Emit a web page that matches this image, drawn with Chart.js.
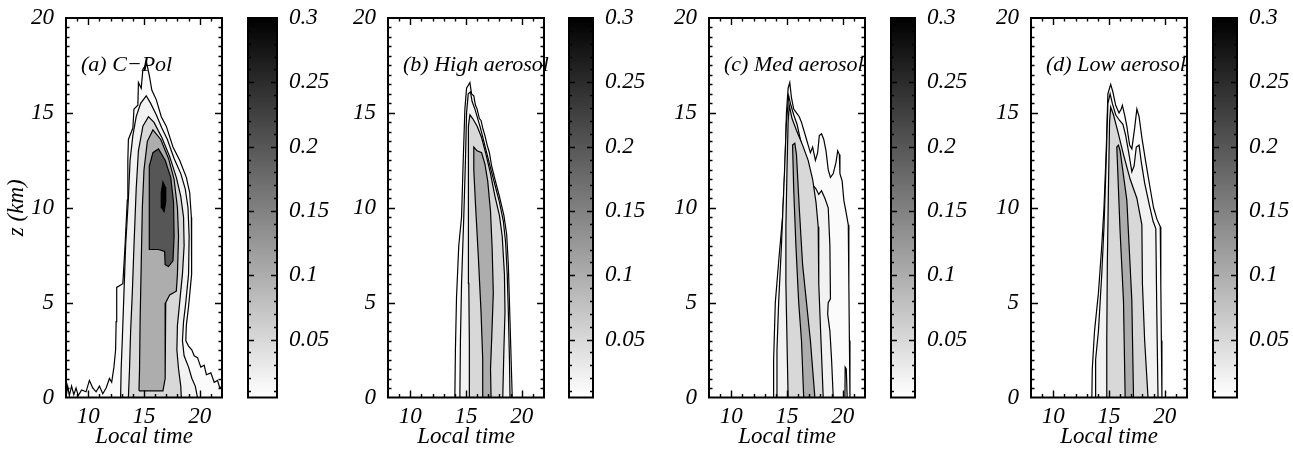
<!DOCTYPE html>
<html>
<head>
<meta charset="utf-8">
<script src="https://cdn.jsdelivr.net/npm/chart.js@4.4.1/dist/chart.umd.min.js"></script>
<style>
html, body { margin: 0; padding: 0; background: #fff; }
#wrap { position: relative; width: 1293px; height: 452px; overflow: hidden; }
canvas { position: absolute; top: 0; }
</style>
</head>
<body>
<div id="wrap"></div>
<script>
// Axes and colour bar
const xRange = [8, 22];
const zRange = [0, 20];
const xTickLabels = [10, 15, 20];
const zTickLabels = [0, 5, 10, 15, 20];
const cbRange = [0.005, 0.3];
const cbTickLabels = [0.05, 0.1, 0.15, 0.2, 0.25, 0.3];

// Contour outlines, [local time, z km], one per level
// (a) C-Pol
const a01 = [[8,0],[8.15,0.6],[8.3,0.1],[8.5,0.6],[8.7,0.15],[8.9,0.5],[9.1,0.1],[9.4,0.4],[9.8,0.3],[10.1,0.9],[10.4,0.5],[10.7,0.3],[11.0,0.6],[11.3,0.2],[11.6,0.5],[11.9,1.0],[12.1,0.8],[12.3,1.6],[12.45,2.5],[12.5,4],[12.55,5.8],[13.1,6.0],[13.3,8],[13.5,10.4],[13.55,12.5],[13.6,13.6],[14.0,14.2],[14.1,15.2],[14.45,15.4],[14.5,16.6],[14.75,16.3],[14.9,17.3],[15.25,17.6],[15.5,16.9],[15.7,16.2],[16.1,15.7],[16.55,14.8],[17.0,14.3],[17.6,13.2],[18.2,12.5],[18.8,11.6],[19.1,10.8],[19.25,9.5],[19.3,8],[19.25,6.5],[19.0,4.8],[18.8,3.8],[18.75,3.0],[19.0,2.7],[19.3,2.5],[19.5,2.2],[19.8,2.1],[20.1,1.6],[20.4,1.7],[20.6,1.2],[21.0,1.3],[21.3,0.8],[21.6,0.9],[21.8,0.5],[22,0.6],[22,0]];
const a02 = [[12.9,0],[12.95,1.5],[13.05,3],[13.2,5.5],[13.35,8],[13.6,10.5],[13.75,12.5],[14.0,13.8],[14.3,14.8],[14.7,15.5],[15.2,15.9],[15.6,15.5],[16.1,14.9],[16.6,14.2],[17.1,13.6],[17.7,12.6],[18.3,11.8],[18.7,11.0],[18.95,10],[19.05,8.5],[19.0,6.5],[18.75,5],[18.55,4],[18.45,3],[18.6,2.2],[19.0,1.6],[19.3,1.0],[19.6,0.6],[19.8,0]];
const a05 = [[13.6,0],[13.7,1.5],[13.8,3.5],[13.95,5.5],[14.1,8],[14.3,11],[14.5,13],[14.9,14.3],[15.4,14.8],[15.9,14.5],[16.6,13.7],[17.3,12.7],[17.9,11.6],[18.3,10.6],[18.55,9.5],[18.6,8],[18.45,6.5],[18.2,5],[18.0,3.8],[17.95,2.5],[18.1,1.5],[18.3,0.6],[18.35,0]];
const a10 = [[14.55,0.35],[14.6,1.5],[14.65,4],[14.75,7],[14.85,10],[15.0,12],[15.3,13.5],[15.8,14.1],[16.5,13.6],[17.2,12.6],[17.7,11.5],[18.0,10],[18.1,8.5],[18.0,6.5],[17.9,5.6],[17.3,5.4],[16.95,5.0],[16.9,3],[16.9,1],[16.7,0.35]];
const a20 = [[15.5,7.8],[15.45,10],[15.5,12.2],[15.8,12.9],[16.3,13.1],[16.9,12.5],[17.4,11.6],[17.65,10.3],[17.7,8.5],[17.6,7.2],[17.2,6.9],[16.9,7.0],[16.85,7.7],[16.3,7.8]];
const a30 = [[16.6,10.0],[16.55,10.8],[16.7,11.35],[16.9,11.1],[16.95,10.3],[16.8,9.8]];

// (b) High aerosol
const b01 = [[14.0,0],[14.05,2.5],[14.15,5.3],[14.35,8],[14.6,9.5],[14.75,12.5],[14.9,15.2],[15.05,16.3],[15.35,16.6],[15.5,16.0],[15.7,15.9],[15.85,15.4],[16.0,15.2],[16.2,14.7],[16.35,14.6],[16.5,14.2],[16.7,13.8],[16.9,13.3],[17.1,12.9],[17.3,12.2],[17.6,11.5],[18.0,10.6],[18.4,9.6],[18.65,8.6],[18.8,7],[18.9,5],[19.0,3],[19.1,1],[19.15,0]];
const b02 = [[14.45,0],[14.5,3],[14.6,6],[14.8,9.5],[14.95,12.5],[15.05,15],[15.2,16.0],[15.4,16.1],[15.55,15.6],[15.8,15.2],[16.0,14.8],[16.3,14.2],[16.6,13.5],[16.9,12.8],[17.2,12.1],[17.6,11.2],[18.0,10.3],[18.35,9.3],[18.55,8.2],[18.7,6.5],[18.8,4.5],[18.9,2],[18.95,0]];
const b05 = [[15.35,0],[15.3,3],[15.25,6],[15.2,9],[15.2,12],[15.25,14.3],[15.35,14.9],[15.6,14.7],[16.0,14.3],[16.4,13.7],[16.8,12.8],[17.2,11.8],[17.6,10.6],[18.0,9.6],[18.25,8.5],[18.45,6.5],[18.5,4.5],[18.4,2.5],[18.3,0]];
const b10 = [[16.5,0],[16.5,2],[16.35,4.5],[16.1,7.5],[15.85,10.2],[15.7,12],[15.7,13.2],[16.0,13.0],[16.4,12.9],[16.7,12.3],[16.95,11.4],[17.2,9.8],[17.35,7.8],[17.45,5.5],[17.3,3],[17.2,1.5],[17.25,0]];

// (c) Med aerosol
const c01 = [[13.76,0],[13.8,2],[13.95,5],[14.3,7.5],[14.6,9.5],[14.8,12],[14.95,15],[15.1,16.3],[15.25,16.6],[15.4,15.8],[15.6,15.2],[15.85,15.0],[16.1,14.8],[16.3,14.5],[16.5,14.1],[16.7,13.7],[16.9,13.3],[17.1,12.9],[17.3,13.2],[17.55,12.5],[17.75,12.9],[17.9,13.8],[18.1,13.9],[18.3,13.6],[18.5,13.0],[18.7,12.0],[18.9,11.6],[19.15,11.8],[19.4,12.4],[19.55,13.0],[19.7,12.8],[19.75,11.8],[19.95,11.4],[20.1,10.4],[20.35,9.6],[20.5,9.1],[20.55,6],[20.6,3],[20.65,0]];
const c02 = [[14.05,0],[14.1,2.5],[14.25,5],[14.5,8],[14.75,11.5],[14.95,14.5],[15.15,15.9],[15.35,15.4],[15.6,14.9],[15.9,14.4],[16.2,13.6],[16.5,12.8],[16.8,12.4],[17.0,11.5],[17.3,11.2],[17.6,11.0],[17.85,10.7],[18.1,10.9],[18.4,10.5],[18.7,10.0],[18.85,8],[18.9,5.2],[18.7,5.0],[18.65,4.4],[18.85,3.5],[19.0,2],[19.15,0]];
const c02b = [[20.2,0],[20.22,1.6],[20.32,1.5],[20.4,0]];
const c05 = [[15.1,0],[15.0,3],[14.9,6],[14.9,9],[15.0,12],[15.1,14.5],[15.2,15.4],[15.45,14.7],[15.9,14.0],[16.4,13.3],[16.9,12.5],[17.3,11.5],[17.6,10.3],[17.8,9],[17.85,6],[18.05,3],[18.25,0]];
const c10 = [[16.5,0],[16.3,3],[16.05,5],[15.8,8],[15.6,11],[15.5,13.3],[15.7,13.4],[15.85,12.8],[16.1,10],[16.4,7],[16.75,5],[17.1,3],[17.5,0]];

// (d) Low aerosol
const d01 = [[13.46,0],[13.5,1.5],[13.7,3.5],[14.05,5.5],[14.35,8],[14.55,10],[14.75,13],[14.9,16.0],[15.15,16.5],[15.35,16.1],[15.6,15.4],[15.9,15.0],[16.1,15.2],[16.2,15.4],[16.4,14.9],[16.6,14.3],[16.85,13.3],[17.05,13.1],[17.3,14.2],[17.5,15.2],[17.7,14.8],[17.95,13.7],[18.3,12.4],[18.7,11.0],[19.0,10.0],[19.3,9.4],[19.6,9.0],[19.65,6],[19.7,3],[19.75,0]];
const d02 = [[13.76,0],[13.8,2],[14.05,3.5],[14.35,6.5],[14.55,9],[14.75,12.5],[14.9,15.5],[15.1,16.0],[15.3,15.5],[15.6,14.9],[15.95,14.6],[16.25,14.4],[16.5,13.8],[16.8,12.8],[17.05,11.9],[17.25,12.2],[17.45,13.2],[17.7,13.3],[17.9,12.4],[18.2,11.3],[18.6,10.2],[18.95,9.3],[19.2,8.9],[19.3,4],[19.4,0]];
const d05 = [[14.8,0],[14.8,3],[14.85,7],[14.95,11],[15.05,14.5],[15.15,15.3],[15.4,14.9],[15.8,14.0],[16.3,12.8],[16.9,11.5],[17.5,10.5],[17.95,9.1],[18.0,6],[18.2,3],[18.5,0]];
const d10 = [[16.45,0],[16.3,5.1],[16.0,8.7],[15.7,13.2],[15.85,13.3],[16.0,13.0],[16.6,10.4],[17.05,5.1],[17.2,0]];

const panels = [
    { text: '(a) C\u2212Pol', yTitle: true, clip: true,
      sets: [[0.01, a01], [0.02, a02], [0.05, a05], [0.1, a10], [0.2, a20], [0.3, a30]] },
    { text: '(b) High aerosol', yTitle: false, clip: false,
      sets: [[0.01, b01], [0.02, b02], [0.05, b05], [0.1, b10]] },
    { text: '(c) Med aerosol', yTitle: false, clip: true,
      sets: [[0.01, c01], [0.02, c02], [0.02, c02b], [0.05, c05], [0.1, c10]] },
    { text: '(d) Low aerosol', yTitle: false, clip: true,
      sets: [[0.01, d01], [0.02, d02], [0.05, d05], [0.1, d10]] }
];

// Page layout (pixels)
const plotLeft = [66, 388, 709, 1031];
const plotW = 156;
const cbLeft = [248, 569, 891, 1213];
const cbW = [29, 24, 24, 24];
const areaTop = 18, areaBottom = 397.5;
const yAxisW = 66;

const FONT = '"Liberation Serif", "Times New Roman", serif';
Chart.defaults.color = '#000';
Chart.defaults.font.family = FONT;

const shade = v => {
    const f = (v - cbRange[0]) / (cbRange[1] - cbRange[0]);
    const g = Math.max(0, Math.min(255, Math.round(255 * (1 - f))));
    return `rgb(${g},${g},${g})`;
};

// minor / major tick marks, drawn inside the frame
const xMarks = [], zMarks = [], cbMarks = [];
for (let t = xRange[0] + 1; t < xRange[1]; t++) xMarks.push([t, xTickLabels.includes(t) ? 7 : 3.5]);
for (let i = 1; i < 40; i++) zMarks.push([i / 2, i % 10 === 0 ? 7 : 3.5]);
for (let i = 1; i < 30; i++) cbMarks.push([i / 100, i % 5 === 0 ? 6 : 3]);

const frameTicks = {
    id: 'frameTicks',
    afterDraw(chart, args, o) {
        const { ctx, chartArea: a, scales } = chart;
        ctx.save();
        ctx.strokeStyle = '#000';
        ctx.lineWidth = 1.4;
        ctx.beginPath();
        (o.x || []).forEach(([v, len]) => {
            const px = Math.round(scales.x.getPixelForValue(v)) + 0.5;
            ctx.moveTo(px, a.bottom); ctx.lineTo(px, a.bottom - len);
            ctx.moveTo(px, a.top); ctx.lineTo(px, a.top + len);
        });
        (o.y || []).forEach(([v, len]) => {
            const py = Math.round(scales.y.getPixelForValue(v)) + 0.5;
            ctx.moveTo(a.left, py); ctx.lineTo(a.left + len, py);
            ctx.moveTo(a.right, py); ctx.lineTo(a.right - len, py);
        });
        ctx.stroke();
        ctx.lineWidth = 2;
        ctx.strokeRect(a.left, a.top, a.right - a.left, a.bottom - a.top);
        ctx.restore();
    }
};

const panelLabel = {
    id: 'panelLabel',
    afterDatasetsDraw(chart, args, o) {
        const { ctx, chartArea: a } = chart;
        ctx.save();
        if (o.clip) {
            ctx.beginPath();
            ctx.rect(a.left, a.top, a.right - a.left, a.bottom - a.top);
            ctx.clip();
        }
        ctx.font = `italic 22px ${FONT}`;
        ctx.fillStyle = '#000';
        ctx.textBaseline = 'alphabetic';
        ctx.fillText(o.text, a.left + 15, a.top + 53);
        ctx.restore();
    }
};

const wrap = document.getElementById('wrap');
function addCanvas(left, width) {
    const c = document.createElement('canvas');
    c.width = width; c.height = 452;
    c.style.left = left + 'px';
    c.style.width = width + 'px'; c.style.height = '452px';
    wrap.appendChild(c);
    return c;
}

const tickFont = { size: 23, style: 'italic', family: FONT };

panels.forEach((p, i) => {
    // contour panel
    const canvas = addCanvas(plotLeft[i] - yAxisW, yAxisW + plotW + 10);
    const datasets = p.sets
        .map(([v, pts]) => ({ v, pts }))
        .sort((m, n) => n.v - m.v)
        .map(({ v, pts }) => ({
            data: pts.concat([pts[0]]).map(([x, y]) => ({ x, y })),
            showLine: true,
            fill: 'shape',
            backgroundColor: shade(v),
            borderColor: '#000',
            borderWidth: 1.2,
            pointRadius: 0,
            tension: 0
        }));
    new Chart(canvas, {
        type: 'scatter',
        data: { datasets },
        options: {
            responsive: false,
            animation: false,
            devicePixelRatio: 1,
            layout: { padding: { top: areaTop, right: 10, left: 0, bottom: 0 } },
            plugins: {
                legend: { display: false },
                tooltip: { enabled: false },
                frameTicks: { x: xMarks, y: zMarks },
                panelLabel: { text: p.text, clip: p.clip }
            },
            scales: {
                x: {
                    type: 'linear', min: xRange[0], max: xRange[1],
                    grid: { display: false }, border: { display: false },
                    afterBuildTicks: ax => { ax.ticks = xTickLabels.map(value => ({ value })); },
                    afterFit: ax => { ax.height = 452 - areaBottom; },
                    ticks: { font: tickFont, padding: -2, maxRotation: 0, color: '#000' },
                    title: { display: true, text: 'Local time', font: tickFont, padding: { top: 0, bottom: 1 }, color: '#000' }
                },
                y: {
                    type: 'linear', min: zRange[0], max: zRange[1],
                    grid: { display: false }, border: { display: false },
                    afterBuildTicks: ax => { ax.ticks = zTickLabels.map(value => ({ value })); },
                    afterFit: ax => { ax.width = yAxisW; },
                    ticks: { font: tickFont, padding: 4, color: '#000' },
                    title: { display: p.yTitle, text: 'z (km)', font: tickFont, padding: { top: 3, bottom: 0 }, color: '#000' }
                }
            }
        },
        plugins: [frameTicks, panelLabel]
    });

    // colour bar
    const cb = addCanvas(cbLeft[i] - 4, 4 + cbW[i] + 62);
    new Chart(cb, {
        type: 'bar',
        data: {
            labels: [''],
            datasets: [{
                data: [cbRange],
                barPercentage: 1,
                categoryPercentage: 1,
                borderWidth: 0,
                backgroundColor: ctx => {
                    const a = ctx.chart.chartArea;
                    if (!a) return '#888';
                    const g = ctx.chart.ctx.createLinearGradient(0, a.bottom, 0, a.top);
                    g.addColorStop(0, shade(cbRange[0]));
                    g.addColorStop(1, shade(cbRange[1]));
                    return g;
                }
            }]
        },
        options: {
            responsive: false,
            animation: false,
            devicePixelRatio: 1,
            layout: { padding: { top: areaTop, left: 4, right: 0, bottom: 452 - areaBottom } },
            plugins: {
                legend: { display: false },
                tooltip: { enabled: false },
                frameTicks: { y: cbMarks }
            },
            scales: {
                x: { display: false },
                y: {
                    position: 'right',
                    min: cbRange[0], max: cbRange[1],
                    grid: { display: false }, border: { display: false },
                    afterBuildTicks: ax => { ax.ticks = cbTickLabels.map(value => ({ value })); },
                    afterFit: ax => { ax.width = 62; },
                    ticks: { font: tickFont, padding: 4, color: '#000', callback: v => String(v) }
                }
            }
        },
        plugins: [frameTicks]
    });
});
</script>
</body>
</html>
